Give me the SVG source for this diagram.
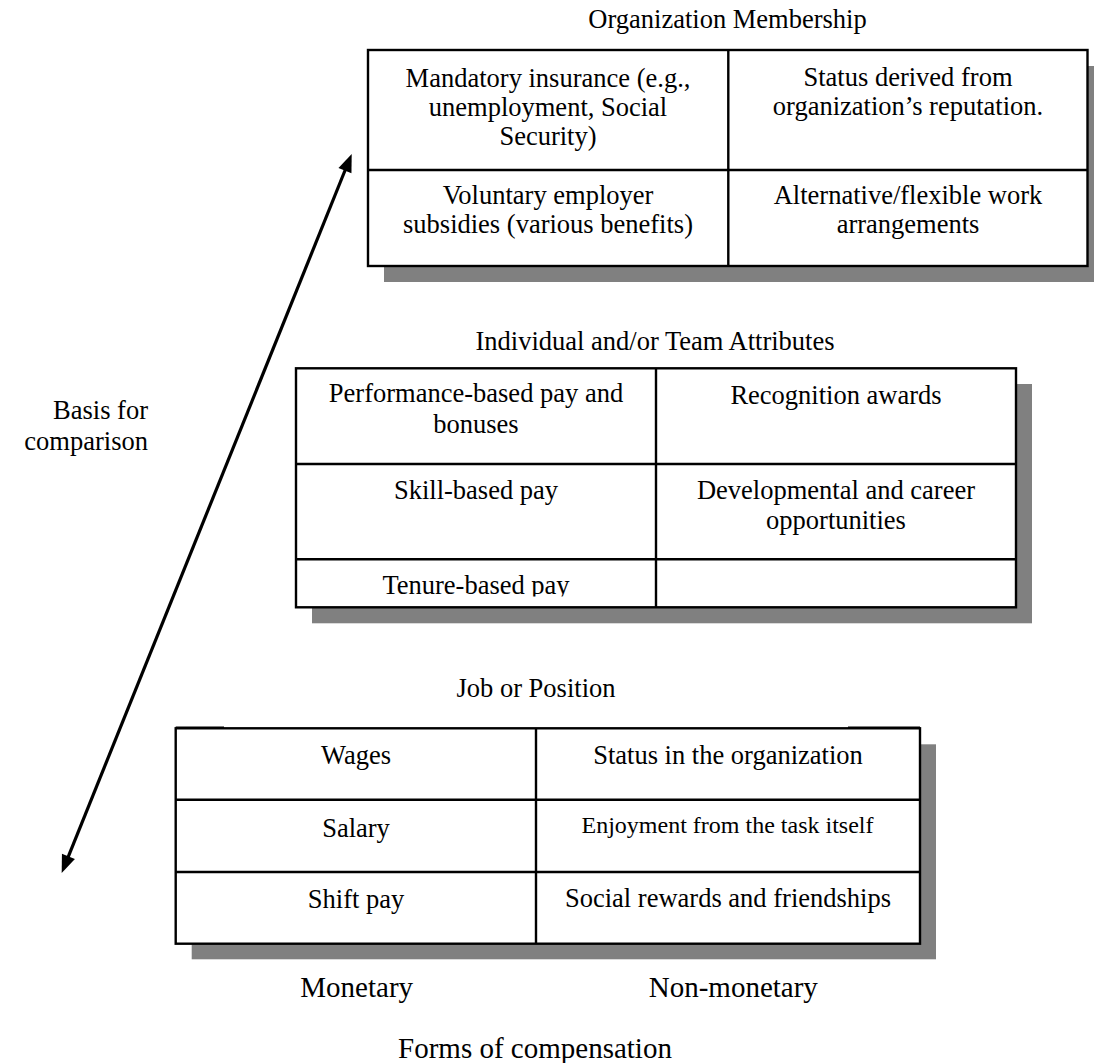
<svg xmlns="http://www.w3.org/2000/svg" width="1094" height="1063" viewBox="0 0 1094 1063">
<style>
text{font-family:"Liberation Serif","Times New Roman",serif;font-size:26.5px;fill:#000;text-anchor:middle}
.lbl{font-size:29px}
.sm{font-size:24px}
.shadow{fill:#808080;stroke:none}
.box{fill:#fff;stroke:#000;stroke-width:2.4}
.grid{stroke:#000;stroke-width:2.4;fill:none}
.arrow{stroke:#000;stroke-width:3.2;fill:none}
.head{fill:#000;stroke:none}
</style>
<defs>
<clipPath id="clipTenure"><rect x="297" y="560" width="358" height="36.5"/></clipPath>
</defs>
<rect width="1094" height="1063" fill="#fff"/>

<g id="org-membership">
<text x="727.5" y="28.3">Organization Membership</text>
<rect class="shadow" x="384" y="66" width="720" height="216"/>
<rect class="box" x="368" y="50" width="719.5" height="216"/>
<path class="grid" d="M728.3 50V266M368 170H1087.5"/>
<text x="548" y="87">Mandatory insurance (e.g.,</text>
<text x="548" y="116">unemployment, Social</text>
<text x="548" y="145">Security)</text>
<text x="908" y="85.5">Status derived from</text>
<text x="908" y="114.5">organization’s reputation.</text>
<text x="548" y="204">Voluntary employer</text>
<text x="548" y="233">subsidies (various benefits)</text>
<text x="908" y="204">Alternative/flexible work</text>
<text x="908" y="233">arrangements</text>
</g>

<g id="individual-team">
<text x="655" y="350">Individual and/or Team Attributes</text>
<rect class="shadow" x="312" y="384" width="720" height="239.3"/>
<rect class="box" x="296" y="368.3" width="720" height="239"/>
<path class="grid" d="M656 368.3V607.3M296 464H1016M296 559.3H1016"/>
<text x="476" y="402">Performance-based pay and</text>
<text x="476" y="432.5">bonuses</text>
<text x="836" y="403.5">Recognition awards</text>
<text x="476" y="499.3">Skill-based pay</text>
<text x="836" y="499.3">Developmental and career</text>
<text x="836" y="529.3">opportunities</text>
<text x="476" y="594" clip-path="url(#clipTenure)">Tenure-based pay</text>
</g>

<g id="job-position">
<text x="536" y="696.7">Job or Position</text>
<rect class="shadow" x="191.7" y="744.3" width="744.3" height="215"/>
<rect class="box" x="175.7" y="728.3" width="744.3" height="215.4"/>
<path class="grid" d="M175.7 727.6H224M848 727.6H920"/>
<path class="grid" d="M536 728.3V943.7M175.7 799.7H920M175.7 872H920"/>
<text x="356" y="764">Wages</text>
<text x="728" y="764">Status in the organization</text>
<text x="356" y="836.5">Salary</text>
<text class="sm" x="727.5" y="832.7">Enjoyment from the task itself</text>
<text x="356" y="908.3">Shift pay</text>
<text x="728" y="906.7">Social rewards and friendships</text>
</g>

<g id="axis-labels">
<text class="lbl" x="356.7" y="996.7">Monetary</text>
<text class="lbl" x="733.3" y="996.7">Non-monetary</text>
<text class="lbl" x="535" y="1058">Forms of compensation</text>
<text style="text-anchor:end" x="148" y="419">Basis for</text>
<text style="text-anchor:end" x="148" y="450">comparison</text>
</g>

<g id="connectors">
<line class="arrow" x1="346" y1="168" x2="67.4" y2="858.8"/>
<polygon class="head" points="351.7,154 351.46,173.31 338.48,168.07"/>
<polygon class="head" points="61.7,873 74.92,858.93 61.94,853.69"/>
</g>
</svg>
